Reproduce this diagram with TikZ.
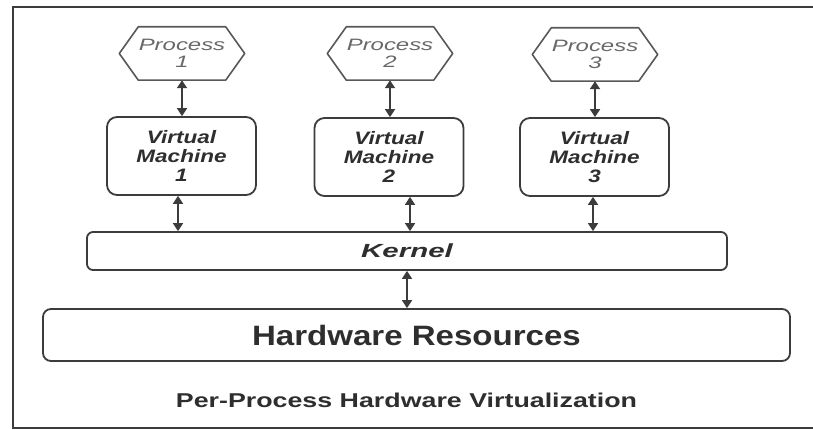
\documentclass[tikz,border=0pt]{standalone}
\usepackage{fontspec}
\setmainfont{Liberation Sans}
\newfontfamily\fproc[FakeStretch=1.45]{Liberation Sans}
\newfontfamily\fvm[FakeStretch=1.25]{Liberation Sans}
\newfontfamily\fker[FakeStretch=1.55]{Liberation Sans}
\newfontfamily\fhw[FakeStretch=1.18]{Liberation Sans}
\newfontfamily\fcap[FakeStretch=1.34]{Liberation Sans}
\usetikzlibrary{arrows.meta}
\definecolor{ink}{HTML}{3c3c3c}
\definecolor{txt}{HTML}{2e2e2e}
\definecolor{ptxt}{HTML}{686868}
\definecolor{hexc}{HTML}{585858}
\begin{document}
\begin{tikzpicture}[x=1pt,y=-1pt,
  hexnode/.style={minimum width=125pt,minimum height=53pt,inner sep=0pt,align=center,
    text=ptxt,font={\fproc\itshape\fontsize{16.5pt}{17pt}\selectfont}},
  hexline/.style={draw=hexc,line width=1.6pt,line join=round},
  vmbox/.style={draw=ink,line width=1.8pt,rounded corners=10pt,minimum width=149pt,
    minimum height=78pt,inner sep=0pt,align=center,text=txt,
    font={\fvm\bfseries\itshape\fontsize{18pt}{19pt}\selectfont}},
  kbox/.style={draw=ink,line width=1.8pt,rounded corners=6pt,minimum width=640pt,
    minimum height=38pt,inner sep=0pt,text=txt,
    font={\fker\bfseries\itshape\fontsize{19pt}{21pt}\selectfont}},
  hwbox/.style={draw=ink,line width=1.8pt,rounded corners=8pt,minimum width=747pt,
    minimum height=52pt,inner sep=0pt,text=txt,
    font={\fhw\bfseries\fontsize{28pt}{31pt}\selectfont}},
  captxt/.style={inner sep=0pt,text=txt,font={\fcap\bfseries\fontsize{20pt}{23pt}\selectfont}},
  arr/.style={draw=ink,line width=1.8pt,{Triangle[width=10pt,length=8pt]}-{Triangle[width=10pt,length=8pt]}},
  frame/.style={draw=ink,line width=2.4pt}
]
\useasboundingbox (0,0) rectangle (813,430);
\fill[white] (0,0) rectangle (813,430);
\draw[frame] (830,7) -- (13,7) -- (13,428) -- (830,428);

% processes
\node[hexnode] (p1) at (182,53.5) {Process\\1};
\node[hexnode] (p2) at (390,53.5) {Process\\2};
\node[hexnode] (p3) at (595,54.5) {Process\\3};
\foreach \p in {p1,p2,p3}{
  \draw[hexline] ([xshift=19pt]\p.north west) -- ([xshift=-19pt]\p.north east) -- (\p.east)
    -- ([xshift=-19pt]\p.south east) -- ([xshift=19pt]\p.south west) -- (\p.west) -- cycle;
}

% virtual machines
\node[vmbox] (v1) at (181.5,156) {Virtual\\Machine\\1};
\node[vmbox] (v2) at (389,157) {Virtual\\Machine\\2};
\node[vmbox] (v3) at (594.5,157) {Virtual\\Machine\\3};

% kernel and hardware
\node[kbox] (k) at (407,251) {Kernel};
\node[hwbox] (hw) at (416.5,335) {Hardware Resources};
\node[captxt] (cap) at (406.5,400) {Per-Process Hardware Virtualization};

% connectors
\draw[arr] (p1.south) -- (p1.south |- v1.north);
\draw[arr] (p2.south) -- (p2.south |- v2.north);
\draw[arr] (p3.south) -- (p3.south |- v3.north);
\draw[arr] ([xshift=-3.5pt]v1.south) -- ([xshift=-3.5pt]v1.south |- k.north);
\draw[arr] ([xshift=21pt]v2.south) -- ([xshift=21pt]v2.south |- k.north);
\draw[arr] ([xshift=-1.5pt]v3.south) -- ([xshift=-1.5pt]v3.south |- k.north);
\draw[arr] (k.south) -- (k.south |- hw.north);
\end{tikzpicture}
\end{document}
